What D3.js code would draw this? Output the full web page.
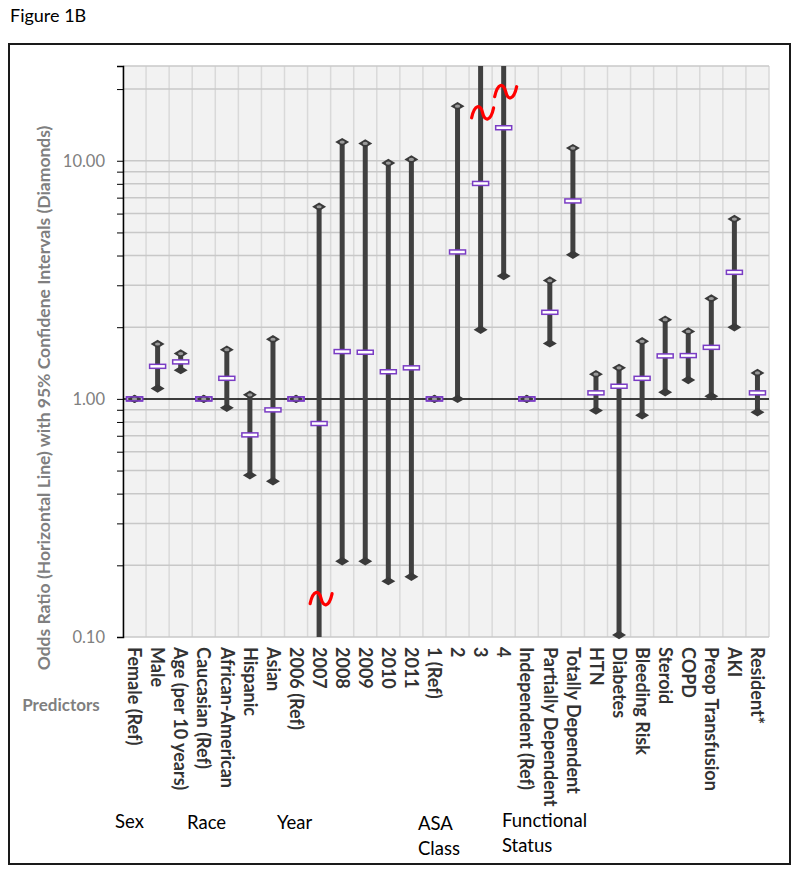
<!DOCTYPE html>
<html>
<head>
<meta charset="utf-8">
<script src="https://cdn.jsdelivr.net/npm/d3@7/dist/d3.min.js"></script>
<style>
  html, body { margin: 0; padding: 0; background: #fff; }
  svg { display: block; }
</style>
</head>
<body>
<svg id="chart" width="800" height="874"></svg>
<script>
// ---------------- DATA ----------------
const categories = [
  "Female (Ref)", "Male", "Age (per 10 years)", "Caucasian (Ref)", "African-American",
  "Hispanic", "Asian", "2006 (Ref)", "2007", "2008", "2009", "2010", "2011",
  "1 (Ref)", "2", "3", "4", "Independent (Ref)", "Partially Dependent", "Totally Dependent",
  "HTN", "Diabetes", "Bleeding Risk", "Steroid", "COPD", "Preop Transfusion", "AKI", "Resident*"
];
const oddsRatio = [
  1.00, 1.37, 1.43, 1.00, 1.22,
  0.706, 0.899, 1.00, 0.788, 1.58, 1.57, 1.30, 1.35,
  1.00, 4.14, 8.03, 13.76, 1.00, 2.31, 6.78,
  1.06, 1.13, 1.22, 1.515, 1.52, 1.646, 3.40, 1.06
];
const lowerCI = [
  1.00, 1.105, 1.32, 1.00, 0.917,
  0.478, 0.451, 1.00, 0.05, 0.208, 0.208, 0.1716, 0.179,
  1.00, 1.00, 1.95, 3.28, 1.00, 1.71, 4.03,
  0.893, 0.102, 0.853, 1.066, 1.20, 1.026, 2.00, 0.879
];
const upperCI = [
  1.00, 1.70, 1.55, 1.00, 1.61,
  1.04, 1.78, 1.00, 6.41, 11.98, 11.82, 9.78, 10.13,
  1.00, 16.96, 40, 45, 1.00, 3.14, 11.3,
  1.27, 1.35, 1.745, 2.15, 1.92, 2.64, 5.69, 1.285
];
// axis break marks (red tildes): category and value where drawn
const breakCategories = ["2007", "3", "4"];
const breakValues = [0.145, 15.9, 19.5];
// y axis
const yDomain = [0.1, 25];
const yGridValues = [0.1,0.2,0.3,0.4,0.5,0.6,0.7,0.8,0.9,1,2,3,4,5,6,7,8,9,10,20,25];
const yLabelValues = [0.1, 1, 10];
// group labels
const groupLabels = [["Sex"], ["Race"], ["Year"], ["ASA", "Class"], ["Functional", "Status"]];
const groupLabelX = [115, 187, 277, 418, 502];
const groupLabelY = [828, 829, 829, 830, 827];

// ---------------- LAYOUT ----------------
const W = 800, H = 874;
const plot = { left: 123, right: 769, top: 66, bottom: 637 };
const FONT = "Lato, 'Open Sans', sans-serif";

const svg = d3.select("#chart");

const x = d3.scaleBand().domain(categories).range([plot.left, plot.right]).padding(0);
const y = d3.scaleLog().domain(yDomain).range([plot.bottom, plot.top]);
const cx = c => x(c) + x.bandwidth() / 2;

// title
svg.append("text").attr("x", 10).attr("y", 22)
  .attr("font-family", FONT).attr("font-size", 18).attr("fill", "#000")
  .text("Figure 1B");

// outer frame
svg.append("rect").attr("x", 9).attr("y", 44).attr("width", 781).attr("height", 820)
  .attr("fill", "none").attr("stroke", "#1a1a1a").attr("stroke-width", 2);

// plot background
svg.append("rect").attr("x", plot.left).attr("y", plot.top)
  .attr("width", plot.right - plot.left).attr("height", plot.bottom - plot.top)
  .attr("fill", "#f2f2f2");

// vertical gridlines at category boundaries
const vLines = categories.map(c => x(c)).concat([plot.right]);
svg.append("g").selectAll("line").data(vLines).join("line")
  .attr("x1", d => d).attr("x2", d => d)
  .attr("y1", plot.top).attr("y2", plot.bottom)
  .attr("stroke", "#d9d9d9").attr("stroke-width", 1.5);

// horizontal gridlines
svg.append("g").selectAll("line").data(yGridValues.filter(v => v !== 1)).join("line")
  .attr("x1", plot.left).attr("x2", plot.right)
  .attr("y1", d => y(d)).attr("y2", d => y(d))
  .attr("stroke", "#c8c8c8").attr("stroke-width", 1.5);

// reference line at 1
svg.append("line").attr("x1", plot.left).attr("x2", plot.right)
  .attr("y1", y(1)).attr("y2", y(1)).attr("stroke", "#000").attr("stroke-width", 1.5);

// y axis
const yAxis = d3.axisLeft(y).tickValues(yGridValues).tickSize(6).tickPadding(12)
  .tickFormat(d => yLabelValues.some(v => Math.abs(v - d) < 1e-9) ? d3.format(".2f")(d) : "");
const gy = svg.append("g").attr("transform", `translate(${plot.left},0)`).call(yAxis);
gy.select(".domain").attr("stroke", "#000").attr("stroke-width", 1.5);
gy.selectAll(".tick line").attr("stroke", "#000").attr("stroke-width", 1);
gy.selectAll(".tick text").attr("font-family", FONT).attr("font-size", 16.5).attr("fill", "#808080");

// y axis title
svg.append("text")
  .attr("transform", `translate(50,${398}) rotate(-90)`)
  .attr("text-anchor", "middle")
  .attr("font-family", FONT).attr("font-size", 17.5).attr("font-weight", "bold").attr("fill", "#7f7f7f")
  .text("Odds Ratio (Horizontal Line) with 95% Confidene Intervals (Diamonds)");

// data marks
const rows = categories.map((c, i) => ({ c, or: oddsRatio[i], lo: lowerCI[i], hi: upperCI[i] }));
const clampY = v => Math.max(plot.top, Math.min(plot.bottom, y(v)));
const inRange = v => v >= yDomain[0] && v <= yDomain[1];

const marks = svg.append("g");
// whisker lines
marks.selectAll("line.whisk").data(rows.filter(d => d.hi > d.lo)).join("line")
  .attr("class", "whisk")
  .attr("x1", d => cx(d.c)).attr("x2", d => cx(d.c))
  .attr("y1", d => clampY(d.hi)).attr("y2", d => clampY(d.lo))
  .attr("stroke", "#404040").attr("stroke-width", 5);

const hw = 7, hh = 4.2;
const diamond = `M${-hw},0L0,${-hh}L${hw},0L0,${hh}Z`;

// OR boxes (drawn under diamonds)
const bw = 16, bh = 4;
marks.selectAll("rect.or").data(rows).join("rect")
  .attr("class", "or")
  .attr("x", d => cx(d.c) - bw / 2).attr("y", d => y(d.or) - bh / 2)
  .attr("width", bw).attr("height", bh)
  .attr("fill", "#fff").attr("stroke", "#7a3cc4").attr("stroke-width", 1.5);

// lower diamonds
marks.selectAll("path.lo").data(rows.filter(d => inRange(d.lo))).join("path")
  .attr("class", "lo")
  .attr("transform", d => `translate(${cx(d.c)},${y(d.lo)})`)
  .attr("d", diamond).attr("fill", "#3a3a3a");

// upper diamonds with grey centre
const up = marks.selectAll("g.hi").data(rows.filter(d => inRange(d.hi))).join("g")
  .attr("class", "hi")
  .attr("transform", d => `translate(${cx(d.c)},${y(d.hi)})`);
up.append("path").attr("d", diamond).attr("fill", "#3a3a3a");
up.append("ellipse").attr("rx", 2.6).attr("ry", 1.6).attr("fill", "#9a9a9a");

// Ref boxes redrawn on top with outline (dark interior remains)
marks.selectAll("rect.ref").data(rows.filter(d => d.hi === d.lo)).join("rect")
  .attr("class", "ref")
  .attr("x", d => cx(d.c) - bw / 2).attr("y", d => y(d.or) - bh / 2)
  .attr("width", bw).attr("height", bh)
  .attr("fill", "none").attr("stroke", "#7a3cc4").attr("stroke-width", 1.5);

// break marks
const tilde = "M-11,5 C-8,-9 -2,-9 0,0 C2,9 8,9 11,-5";
svg.append("g").selectAll("path").data(breakCategories.map((c, i) => ({ c, v: breakValues[i] }))).join("path")
  .attr("transform", d => `translate(${cx(d.c) + 2},${y(d.v)})`)
  .attr("d", tilde).attr("fill", "none").attr("stroke", "#ff0000").attr("stroke-width", 3.2)
  .attr("stroke-linecap", "round");

// x labels (rotated)
svg.append("g").selectAll("text").data(categories).join("text")
  .attr("transform", d => `translate(${cx(d)},${plot.bottom + 10}) rotate(90)`)
  .attr("dy", "0.35em")
  .attr("font-family", FONT).attr("font-size", 18).attr("font-weight", "bold").attr("fill", "#333")
  .text(d => d);

// "Predictors"
svg.append("text").attr("x", 61).attr("y", 711).attr("text-anchor", "middle")
  .attr("font-family", FONT).attr("font-size", 17).attr("font-weight", "bold").attr("fill", "#7f7f7f")
  .text("Predictors");

// group labels
groupLabels.forEach((lines, i) => {
  lines.forEach((t, j) => {
    svg.append("text").attr("x", groupLabelX[i]).attr("y", groupLabelY[i] + j * 25)
      .attr("font-family", FONT).attr("font-size", 18.5).attr("fill", "#000")
      .text(t);
  });
});
</script>
</body>
</html>
